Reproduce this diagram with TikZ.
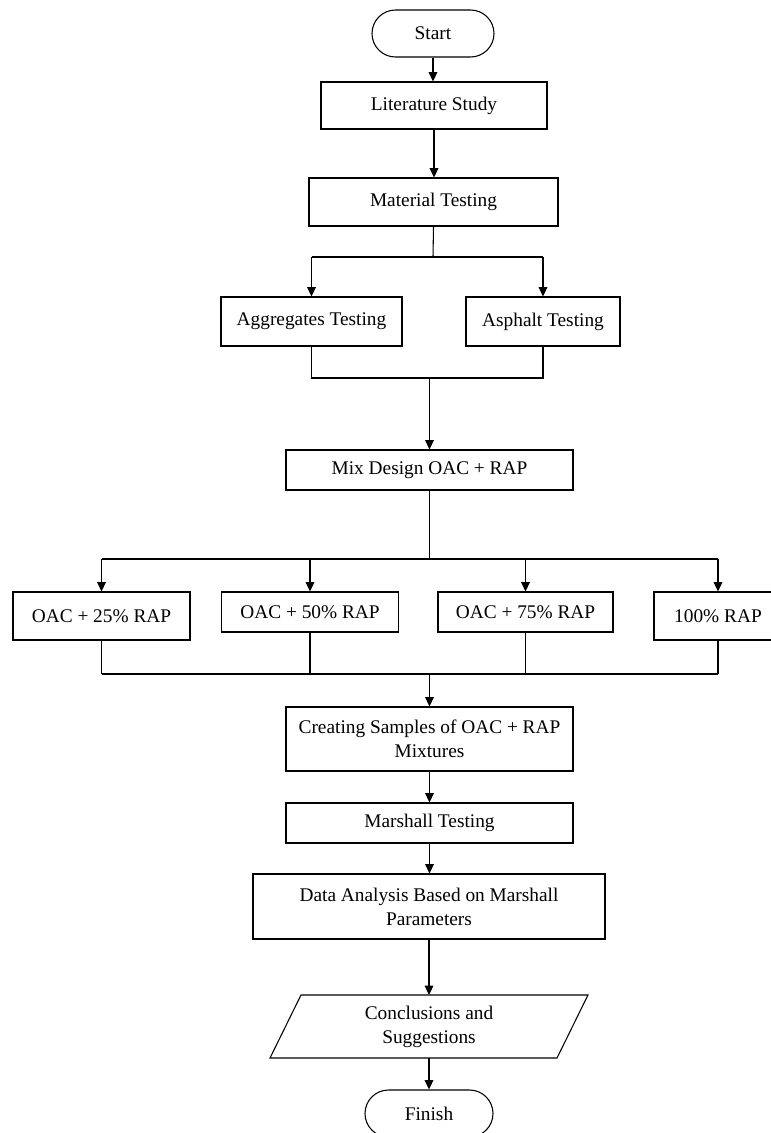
\documentclass[tikz,border=0pt]{standalone}
\usepackage{fontspec}
\setmainfont{Liberation Serif}
\usetikzlibrary{arrows.meta,shapes.misc}

\begin{document}
\begin{tikzpicture}[x=0.75pt,y=0.75pt,yscale=-1,xscale=1,
  font=\fontsize{14.5}{18}\selectfont,
  box/.style={draw, rectangle, inner sep=0pt, align=center, line width=0.8pt},
  terminal/.style={draw, rounded rectangle, inner sep=0pt, line width=0.8pt},
  link/.style={line width=0.8pt},
  flow/.style={line width=0.8pt, -{Triangle[length=7pt,width=6.5pt]}}]
\useasboundingbox (0,0) rectangle (771,1133);

%Shape: Terminal
\node [terminal, minimum width=91.5pt, minimum height=35.25pt] (start) at (433,33.5) {Start};
%Shape: Rectangle
\node [box, minimum width=169.5pt, minimum height=35.25pt] (lit) at (434,105.5) {Literature Study};
\node [box, minimum width=186.75pt, minimum height=36pt] (mat) at (433.5,202) {Material Testing};
\node [box, minimum width=135.75pt, minimum height=36.75pt] (agg) at (311.5,321.5) {Aggregates Testing};
\node [box, minimum width=115.5pt, minimum height=36.75pt] (asp) at (543,321.5) {Asphalt Testing};
\node [box, minimum width=215.25pt, minimum height=30pt] (mix) at (429.5,470) {Mix Design OAC + RAP};

%Shape: Rectangle (variations)
\node [box, minimum width=132.75pt, minimum height=36pt] (r25) at (101.5,616) {OAC + 25\% RAP};
\node [box, minimum width=132.75pt, minimum height=30pt] (r50) at (310,612) {OAC + 50\% RAP};
\node [box, minimum width=131.25pt, minimum height=30pt] (r75) at (525.5,612) {OAC + 75\% RAP};
\node [box, minimum width=96pt, minimum height=36pt] (r100) at (718,616) {100\% RAP};

\node [box, minimum width=215.25pt, minimum height=48pt] (smp) at (429.5,739) {Creating Samples of OAC + RAP\\Mixtures};
\node [box, minimum width=215.25pt, minimum height=30pt] (msh) at (429.5,823) {Marshall Testing};
\node [box, minimum width=264pt, minimum height=48.75pt] (dat) at (429,906.5) {Data Analysis Based on Marshall\\Parameters};

%Shape: Parallelogram
\node [align=center, inner sep=0pt] (con) at (429,1026.5) {Conclusions and\\Suggestions};
\draw [link] ([shift={(-128,-31.5)}]con.center) -- ([shift={(159,-31.5)}]con.center) -- ([shift={(128,31.5)}]con.center) -- ([shift={(-159,31.5)}]con.center) -- cycle;
\coordinate (contop) at ([yshift=-31.5*0.75pt]con.center);
\coordinate (conbot) at ([yshift=31.5*0.75pt]con.center);

%Shape: Terminal
\node [terminal, minimum width=96pt, minimum height=35.25pt] (fin) at (429,1113.5) {Finish};

%Straight Lines
\draw [flow] (start.south) -- (start.south |- lit.north);
\draw [flow] (lit.south) -- (lit.south |- mat.north);

% split to the two tests
\coordinate (sm) at (433,257);
\draw [link] (mat.south) -- (sm);
\draw [link] (agg.north |- sm) -- (asp.north |- sm);
\draw [flow] (agg.north |- sm) -- (agg.north);
\draw [flow] (asp.north |- sm) -- (asp.north);

% join of the two tests
\coordinate (ma) at (429,378);
\draw [link] (agg.south) -- (agg.south |- ma) -- (asp.south |- ma) -- (asp.south);
\draw [flow] (mix.north |- ma) -- (mix.north);

% split to the four mixtures
\coordinate (sr) at (429,559);
\draw [link] (mix.south) -- (mix.south |- sr);
\draw [link] (r25.north |- sr) -- (r100.north |- sr);
\foreach \n in {r25,r50,r75,r100}
  \draw [flow] (\n.north |- sr) -- (\n.north);

% join of the four mixtures
\coordinate (mr) at (429,674);
\foreach \n in {r25,r50,r75,r100}
  \draw [link] (\n.south) -- (\n.south |- mr);
\draw [link] (r25.south |- mr) -- (r100.south |- mr);
\draw [flow] (smp.north |- mr) -- (smp.north);

\draw [flow] (smp.south) -- (smp.south |- msh.north);
\draw [flow] (msh.south) -- (msh.south |- dat.north);
\draw [flow] (dat.south) -- (dat.south |- contop);
\draw [flow] (conbot) -- (conbot |- fin.north);

\end{tikzpicture}
\end{document}
